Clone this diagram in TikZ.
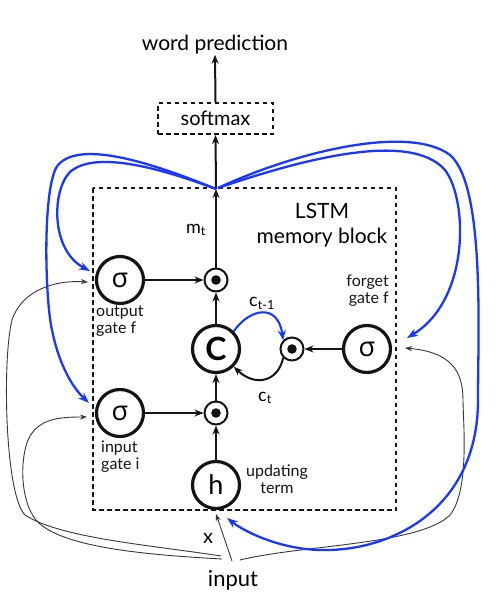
\documentclass[tikz,border=0pt]{standalone}
\usepackage{fontspec}
\setmainfont{Lato}
\newfontfamily\grk{Open Sans}
\usetikzlibrary{arrows.meta}
\definecolor{lblue}{RGB}{25,55,255}
\definecolor{ink}{RGB}{20,20,20}
\begin{document}
\begin{tikzpicture}[x=1pt,y=-1pt,
  bigc/.style={circle,draw=ink,line width=3.2pt,minimum size=47pt,inner sep=0pt,font=\fontsize{27}{28}\selectfont},
  dotc/.style={circle,draw=ink,line width=2pt,minimum size=23pt,inner sep=0pt},
  arr/.style={-{Stealth[length=9pt,width=7pt]},line width=2pt,draw=ink},
  thin/.style={-{Stealth[length=7pt,width=5pt]},line width=0.9pt,draw=ink!85},
  bl/.style={-{Stealth[length=11pt,width=8pt]},line width=2.3pt,draw=lblue},
  lbl/.style={font=\fontsize{16}{17}\selectfont,text=ink,inner sep=0pt,align=left},
  dashbox/.style={draw=ink,line width=2pt,dash pattern=on 4.5pt off 3.5pt}]
\useasboundingbox (0,0) rectangle (500,597);

% block
\draw[dashbox] (93,188) rectangle (396,510);
\node[dashbox,minimum width=115pt,minimum height=31pt,inner sep=0pt,font=\fontsize{20}{22}\selectfont] (sm) at (215.5,118.5) {softmax};
\node[font=\fontsize{21}{22}\selectfont,inner sep=0pt] (wp) at (215,45) {word prediction};
\coordinate (hub) at (216,189);

% nodes
\node[bigc] (og) at (120,280) {\grk σ};
\node[bigc] (ig) at (120,413) {\grk σ};
\node[bigc] (fg) at (367,349) {\grk σ};
\node[bigc,font=\fontsize{32}{34}\selectfont\bfseries] (cc) at (216,349) {C};
\node[bigc] (hh) at (216,485) {h};
\node[dotc] (od) at (216,280) {};
\node[dotc] (id) at (216,413) {};
\node[dotc] (fd) at (292,349) {};
\foreach \n in {od,id,fd} \fill[ink] (\n) circle (4.8pt);

% labels
\node[lbl,anchor=north west] (lo) at (96,306) {output\\gate f};
\node[lbl,anchor=north west] (li) at (101,441) {input\\gate i};
\node[lbl,anchor=north east,align=right] (lf) at (389,275) {forget\\gate f};
\node[lbl,anchor=north,align=center] (lu) at (277,465) {updating\\term};
\node[font=\fontsize{21}{25}\selectfont,inner sep=0pt,align=center] (lstm) at (322,225) {LSTM\\memory block};
\node[font=\fontsize{18}{20}\selectfont,inner sep=0pt] (mt) at (196,230) {m\textsubscript{t}};
\node[font=\fontsize{18}{20}\selectfont,inner sep=0pt] (ctm) at (262,303) {c\textsubscript{t-1}};
\node[font=\fontsize{18}{20}\selectfont,inner sep=0pt] (ct) at (265,398) {c\textsubscript{t}};
\node[font=\fontsize{20}{22}\selectfont,inner sep=0pt] (xl) at (208,538) {x};
\node[font=\fontsize{22}{24}\selectfont,inner sep=0pt] (inp) at (233,580) {input};
\coordinate (in1) at (221,556);
\coordinate (in2) at (222,559);
\coordinate (in3) at (232,561);
\coordinate (in4) at (240,560);

% black arrows
\draw[arr] (sm.north) -- (wp.south);
\draw[arr] (hub) -- (sm.south);
\draw[arr] (od.north) -- (hub);
\draw[arr] (og.east) -- (od.west);
\draw[arr] (ig.east) -- (id.west);
\draw[arr] (cc.north) -- (od.south);
\draw[arr] (id.north) -- (cc.south);
\draw[arr] (hh.north) -- (id.south);
\draw[arr] (fg.west) -- (fd.east);
\draw[arr] (fd.south west) .. controls (278,382) and (255,387) .. (cc.south east);
\draw[bl,line width=2.1pt,-{Stealth[length=10pt,width=8pt]}] (cc.north east) .. controls (250,308) and (278,303) .. (fd.north west);

% thin input lines
\coordinate (hin) at (216,514);
\coordinate (ogin) at (88,282);
\coordinate (igin) at (87,417);
\coordinate (fgin) at (405,348);
\draw[thin] (in3) -- (hin);
\draw[thin] (in1) .. controls (150,545) and (60,538) .. (25,515)
  .. controls (5,495) and (2,360) .. (12,320)
  .. controls (22,290) and (55,280) .. (ogin);
\draw[thin] (in2) .. controls (150,555) and (60,548) .. (36,520)
  .. controls (20,500) and (20,460) .. (28,440)
  .. controls (38,418) and (60,417) .. (igin);
\draw[thin] (in4) .. controls (300,545) and (420,545) .. (450,515)
  .. controls (470,490) and (463,420) .. (463,400)
  .. controls (463,370) and (450,352) .. (fgin);

% blue feedback lines
\coordinate (ogb) at (90,271);
\coordinate (igb) at (89,403);
\coordinate (fgb) at (407,338);
\coordinate (hb) at (227,518);
\draw[bl] (hub) .. controls (160,168) and (95,150) .. (70,172)
  .. controls (52,190) and (50,250) .. (ogb);
\draw[bl] (hub) .. controls (150,162) and (80,140) .. (58,165)
  .. controls (42,185) and (45,300) .. (52,330)
  .. controls (58,360) and (70,385) .. (igb);
\draw[bl] (218,188) .. controls (300,160) and (410,130) .. (445,170)
  .. controls (468,200) and (470,300) .. (fgb);
\draw[bl] (218,188) .. controls (300,150) and (410,125) .. (450,155)
  .. controls (485,185) and (478,330) .. (478,400)
  .. controls (478,510) and (390,552) .. (320,550)
  .. controls (280,549) and (245,532) .. (hb);
\end{tikzpicture}
\end{document}
